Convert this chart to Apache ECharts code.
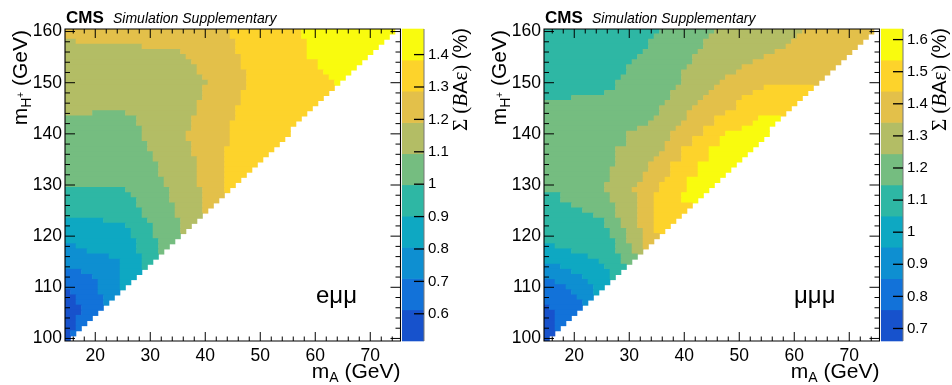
<!DOCTYPE html>
<html>
<head>
<meta charset="utf-8">
<script src="https://cdn.jsdelivr.net/npm/echarts@6/dist/echarts.min.js"></script>
<style>
  html, body { margin: 0; padding: 0; background: #fff; }
  #chart { width: 952px; height: 385px; }
</style>
</head>
<body>
<div id="chart"></div>
<script>
// axis ranges (bins centred on whole GeV) and ticks
const mARange = [14.5, 75.5];
const mHRange = [99.5, 160.5];
const mAMajor = [20, 30, 40, 50, 60, 70];
const mAMinor = [16, 18, 22, 24, 26, 28, 32, 34, 36, 38, 42, 44, 46, 48, 52, 54, 56, 58, 62, 64, 66, 68, 72, 74];
const mHMajor = [100, 110, 120, 130, 140, 150, 160];
const mHMinor = [102, 104, 106, 108, 112, 114, 116, 118, 122, 124, 126, 128, 132, 134, 136, 138, 142, 144, 146, 148, 152, 154, 156, 158];

// colour bar: contour edges (10 equal bands) and labelled values
const emmBounds = [0.516, 0.612, 0.709, 0.805, 0.901, 0.998, 1.094, 1.190, 1.287, 1.383, 1.479];
const emmTicks = [0.6, 0.7, 0.8, 0.9, 1, 1.1, 1.2, 1.3, 1.4];
const mmmBounds = [0.661, 0.758, 0.855, 0.953, 1.050, 1.147, 1.244, 1.342, 1.439, 1.536, 1.633];
const mmmTicks = [0.7, 0.8, 0.9, 1, 1.1, 1.2, 1.3, 1.4, 1.5, 1.6];
const bandColors = ['#1752cc', '#1272d9', '#0e8fd1', '#0ea8c2', '#2eb7a4',
                    '#75bd80', '#b3bd65', '#e3c04a', '#fdd32b', '#f9fb0e'];

// one row per mH: [mH, last filled mA, start mA, band, start mA, band, ...]
const emmRows = [
  [160, 74, 15, 7, 45, 8, 58, 9],
  [159, 73, 15, 7, 45, 8, 58, 9],
  [158, 72, 15, 6, 17, 7, 46, 8, 59, 9],
  [157, 71, 15, 6, 29, 7, 46, 8, 59, 9],
  [156, 70, 15, 6, 36, 7, 46, 8, 59, 9],
  [155, 69, 15, 6, 37, 7, 47, 8, 59, 9],
  [154, 68, 15, 6, 38, 7, 47, 8, 61, 9],
  [153, 67, 15, 6, 39, 7, 47, 8, 61, 9],
  [152, 66, 15, 6, 39, 7, 48, 8, 62, 9],
  [151, 65, 15, 6, 40, 7, 48, 8, 63, 9],
  [150, 64, 15, 6, 41, 7, 48, 8, 64, 9],
  [149, 63, 15, 6, 40, 7, 48, 8],
  [148, 62, 15, 6, 40, 7, 47, 8],
  [147, 61, 15, 6, 40, 7, 47, 8],
  [146, 60, 15, 6, 39, 7, 47, 8],
  [145, 59, 15, 6, 39, 7, 46, 8],
  [144, 58, 15, 6, 20, 5, 26, 6, 39, 7, 46, 8],
  [143, 57, 15, 5, 28, 6, 38, 7, 46, 8],
  [142, 56, 15, 5, 28, 6, 38, 7, 45, 8],
  [141, 55, 15, 5, 29, 6, 38, 7, 45, 8],
  [140, 55, 15, 5, 29, 6, 37, 7, 45, 8],
  [139, 54, 15, 5, 29, 6, 37, 7, 45, 8],
  [138, 53, 15, 5, 30, 6, 38, 7, 45, 8],
  [137, 52, 15, 5, 30, 6, 38, 7, 44, 8],
  [136, 51, 15, 5, 31, 6, 38, 7, 44, 8],
  [135, 50, 15, 5, 31, 6, 39, 7, 44, 8],
  [134, 49, 15, 5, 32, 6, 39, 7, 44, 8],
  [133, 48, 15, 5, 32, 6, 39, 7, 44, 8],
  [132, 47, 15, 5, 32, 6, 39, 7, 44, 8],
  [131, 46, 15, 5, 33, 6, 39, 7, 44, 8],
  [130, 45, 15, 5, 33, 6, 39, 7, 44, 8],
  [129, 44, 15, 4, 26, 5, 34, 6, 40, 7, 44, 8],
  [128, 43, 15, 4, 27, 5, 34, 6, 40, 7],
  [127, 42, 15, 4, 28, 5, 34, 6, 40, 7],
  [126, 41, 15, 4, 28, 5, 35, 6, 40, 7],
  [125, 40, 15, 4, 29, 5, 35, 6, 40, 7],
  [124, 39, 15, 4, 29, 5, 35, 6],
  [123, 38, 15, 3, 22, 4, 30, 5, 36, 6],
  [122, 37, 15, 3, 26, 4, 31, 5, 36, 6],
  [121, 36, 15, 3, 27, 4, 31, 5, 36, 6],
  [120, 35, 15, 3, 27, 4, 31, 5],
  [119, 34, 15, 3, 28, 4, 32, 5],
  [118, 33, 15, 2, 17, 3, 28, 4, 32, 5],
  [117, 32, 15, 2, 19, 3, 28, 4, 32, 5],
  [116, 31, 15, 2, 23, 3, 29, 4],
  [115, 30, 15, 2, 25, 3, 29, 4],
  [114, 29, 15, 2, 25, 3, 29, 4],
  [113, 28, 15, 1, 18, 2, 25, 3],
  [112, 27, 15, 1, 20, 2, 25, 3],
  [111, 26, 15, 1, 21, 2, 25, 3],
  [110, 25, 15, 1, 21, 2, 25, 3],
  [109, 24, 15, 0, 16, 1, 21, 2],
  [108, 23, 15, 0, 17, 1, 22, 2],
  [107, 22, 15, 0, 17, 1, 22, 2],
  [106, 21, 15, 0, 18, 1],
  [105, 20, 15, 0, 18, 1],
  [104, 19, 15, 0, 17, 1],
  [103, 18, 15, 0, 17, 1],
  [102, 17, 15, 0, 17, 1],
  [101, 16, 15, 0, 16, 1],
  [100, 15, 15, 0]
];

const mmmRows = [
  [160, 74, 15, 4, 36, 5, 46, 6, 62, 7],
  [159, 73, 15, 4, 35, 5, 45, 6, 61, 7],
  [158, 72, 15, 4, 34, 5, 44, 6, 60, 7],
  [157, 71, 15, 4, 34, 5, 44, 6, 59, 7],
  [156, 70, 15, 4, 33, 5, 43, 6, 57, 7],
  [155, 69, 15, 4, 32, 5, 42, 6, 55, 7],
  [154, 68, 15, 4, 31, 5, 42, 6, 53, 7],
  [153, 67, 15, 4, 30, 5, 41, 6, 51, 7],
  [152, 66, 15, 4, 30, 5, 40, 6, 50, 7],
  [151, 65, 15, 4, 29, 5, 40, 6, 48, 7],
  [150, 64, 15, 4, 28, 5, 40, 6, 47, 7],
  [149, 63, 15, 4, 28, 5, 39, 6, 46, 7, 55, 8],
  [148, 62, 15, 4, 26, 5, 38, 6, 45, 7, 53, 8],
  [147, 61, 15, 4, 20, 5, 38, 6, 44, 7, 51, 8],
  [146, 60, 15, 5, 37, 6, 43, 7, 50, 8],
  [145, 59, 15, 5, 36, 6, 42, 7, 50, 8],
  [144, 58, 15, 5, 36, 6, 41, 7, 48, 8],
  [143, 57, 15, 5, 35, 6, 41, 7, 46, 8, 54, 9],
  [142, 56, 15, 5, 34, 6, 40, 7, 46, 8, 53, 9],
  [141, 55, 15, 5, 32, 6, 39, 7, 44, 8, 51, 9],
  [140, 55, 15, 5, 30, 6, 38, 7, 44, 8, 48, 9],
  [139, 54, 15, 5, 30, 6, 38, 7, 42, 8, 47, 9],
  [138, 53, 15, 5, 30, 6, 37, 7, 42, 8, 47, 9],
  [137, 52, 15, 5, 28, 6, 37, 7, 40, 8, 45, 9],
  [136, 51, 15, 5, 28, 6, 36, 7, 40, 8, 45, 9],
  [135, 50, 15, 5, 28, 6, 35, 7, 40, 8, 45, 9],
  [134, 49, 15, 5, 28, 6, 34, 7, 38, 8, 43, 9],
  [133, 48, 15, 5, 27, 6, 34, 7, 38, 8, 43, 9],
  [132, 47, 15, 5, 27, 6, 33, 7, 38, 8, 43, 9],
  [131, 46, 15, 5, 27, 6, 33, 7, 37, 8, 41, 9],
  [130, 45, 15, 5, 26, 6, 32, 7, 36, 8, 41, 9],
  [129, 44, 15, 5, 26, 6, 31, 7, 36, 8, 41, 9],
  [128, 43, 15, 4, 18, 5, 27, 6, 32, 7, 35, 8, 40, 9],
  [127, 42, 15, 4, 18, 5, 27, 6, 32, 7, 35, 8, 40, 9],
  [126, 41, 15, 4, 20, 5, 28, 6, 32, 7, 35, 8],
  [125, 40, 15, 4, 22, 5, 28, 6, 32, 7, 35, 8],
  [124, 39, 15, 4, 24, 5, 28, 6, 32, 7, 35, 8],
  [123, 38, 15, 4, 26, 5, 29, 6, 32, 7, 35, 8],
  [122, 37, 15, 4, 26, 5, 29, 6, 32, 7, 35, 8],
  [121, 36, 15, 4, 27, 5, 30, 6, 33, 7, 35, 8],
  [120, 35, 15, 4, 27, 5, 30, 6, 33, 7],
  [119, 34, 15, 4, 28, 5, 30, 6, 33, 7],
  [118, 33, 15, 3, 17, 4, 28, 5, 31, 6, 33, 7],
  [117, 32, 15, 3, 20, 4, 28, 5, 31, 6],
  [116, 31, 15, 3, 23, 4, 29, 5],
  [115, 30, 15, 3, 25, 4, 29, 5],
  [114, 29, 15, 2, 18, 3, 26, 4],
  [113, 28, 15, 2, 20, 3, 27, 4],
  [112, 27, 15, 2, 22, 3, 27, 4],
  [111, 26, 15, 1, 17, 2, 23, 3],
  [110, 25, 15, 1, 19, 2, 24, 3],
  [109, 24, 15, 1, 20, 2, 24, 3],
  [108, 23, 15, 1, 21, 2],
  [107, 22, 15, 1, 22, 2],
  [106, 21, 15, 0, 16, 1],
  [105, 20, 15, 0, 17, 1],
  [104, 19, 15, 0, 17, 1],
  [103, 18, 15, 0, 17, 1],
  [102, 17, 15, 0, 17, 1],
  [101, 16, 15, 0],
  [100, 15, 15, 0]
];

const FONT = '"Liberation Sans", Arial, sans-serif';
const SERIF = '"Liberation Serif", "DejaVu Serif", serif';
const PLOT_TOP = 29, PLOT_W = 335.5, PLOT_H = 312, CB_W = 22;

const panels = [
  { rows: emmRows, bounds: emmBounds, ticks: emmTicks, left: 65, cbLeft: 402, label: 'eμμ', labelX: 316 },
  { rows: mmmRows, bounds: mmmBounds, ticks: mmmTicks, left: 544, cbLeft: 881, label: 'μμμ', labelX: 794 }
];

// turn the run-length rows into [fromMA, toMA, mH, value] cells
function buildRuns(rows, bounds) {
  const out = [];
  rows.forEach(r => {
    const mH = r[0], last = r[1];
    for (let i = 2; i < r.length; i += 2) {
      const from = r[i];
      const to = i + 2 < r.length ? r[i + 2] - 1 : last;
      const band = r[i + 1];
      if (to >= from) out.push([from, to, mH, (bounds[band] + bounds[band + 1]) / 2]);
    }
  });
  return out;
}

function renderRun(params, api) {
  const p0 = api.coord([api.value(0) - 0.5, api.value(2) + 0.5]);
  const p1 = api.coord([api.value(1) + 0.5, api.value(2) - 0.5]);
  return {
    type: 'rect',
    shape: { x: p0[0] - 0.3, y: p0[1] - 0.5, width: p1[0] - p0[0] + 0.6, height: p1[1] - p0[1] + 1 },
    style: { fill: api.visual('color') }
  };
}

const BLACK = { stroke: '#000', lineWidth: 1 };
function seg(x1, y1, x2, y2, style) {
  return { type: 'line', shape: { x1, y1, x2, y2 }, style: style || BLACK };
}

// frame plus inward ticks on all four sides: [value, 0 = mA / 1 = mH, length]
function tickData() {
  const d = [[0, 2, 0]];
  mAMajor.forEach(v => d.push([v, 0, 9]));
  mAMinor.forEach(v => d.push([v, 0, 4.5]));
  mHMajor.forEach(v => d.push([v, 1, 10]));
  mHMinor.forEach(v => d.push([v, 1, 5]));
  return d;
}
function renderTick(params, api) {
  const v = api.value(0), kind = api.value(1), len = api.value(2);
  if (kind === 2) {
    const a = api.coord([mARange[0], mHRange[1]]), b = api.coord([mARange[1], mHRange[0]]);
    return { type: 'rect', shape: { x: a[0], y: a[1], width: b[0] - a[0], height: b[1] - a[1] },
             style: { fill: null, stroke: '#000', lineWidth: 1.1 } };
  }
  if (kind === 0) {
    const b = api.coord([v, mHRange[0]]), t = api.coord([v, mHRange[1]]);
    return { type: 'group', children: [seg(b[0], b[1], b[0], b[1] - len), seg(t[0], t[1], t[0], t[1] + len)] };
  }
  const l = api.coord([mARange[0], v]), r = api.coord([mARange[1], v]);
  return { type: 'group', children: [seg(l[0], l[1], l[0] + len, l[1]), seg(r[0], r[1], r[0] - len, r[1])] };
}

function frameAxis(dim, grid, pos, labels) {
  const range = dim === 'x' ? mARange : mHRange;
  return {
    type: 'value', gridIndex: grid, position: pos,
    min: range[0], max: range[1], splitNumber: 6,
    axisLine: { show: false },
    axisTick: { show: false },
    axisLabel: {
      show: labels, showMinLabel: false, showMaxLabel: false,
      color: '#000', fontFamily: FONT, fontSize: 17.5, margin: dim === 'x' ? 6 : 3
    },
    splitLine: { show: false }
  };
}

const grid = [], xAxis = [], yAxis = [], series = [], visualMap = [], graphic = [];

panels.forEach(p => {
  const g = grid.length;
  grid.push({ left: p.left, top: PLOT_TOP, width: PLOT_W, height: PLOT_H });
  grid.push({ left: p.cbLeft, top: PLOT_TOP, width: CB_W, height: PLOT_H });

  const xi = xAxis.length, yi = yAxis.length;
  xAxis.push(frameAxis('x', g, 'bottom', true));
  yAxis.push(frameAxis('y', g, 'left', true));

  // colour bar axes
  const cxi = xAxis.length, cyi = yAxis.length;
  xAxis.push({ type: 'value', gridIndex: g + 1, min: 0, max: 1, show: false });
  yAxis.push({
    type: 'value', gridIndex: g + 1, position: 'right',
    min: p.bounds[0], max: p.bounds[p.bounds.length - 1], splitNumber: 10,
    axisLine: { show: false },
    axisTick: { show: false },
    axisLabel: {
      showMinLabel: false, showMaxLabel: false,
      color: '#000', fontFamily: FONT, fontSize: 15, margin: 4,
      formatter: v => String(Math.round(v * 10) / 10)
    },
    splitLine: { show: false }
  });

  const si = series.length;
  series.push({
    type: 'custom', xAxisIndex: xi, yAxisIndex: yi, clip: true, z: 1,
    encode: { x: [0, 1], y: 2 },
    renderItem: renderRun,
    data: buildRuns(p.rows, p.bounds)
  });
  visualMap.push({
    type: 'piecewise', show: false, seriesIndex: si, dimension: 3,
    pieces: bandColors.map((c, k) => ({ gte: p.bounds[k], lt: p.bounds[k + 1], color: c }))
  });

  series.push({
    type: 'custom', xAxisIndex: xi, yAxisIndex: yi, z: 5, silent: true,
    encode: { x: 0 },
    renderItem: renderTick,
    data: tickData()
  });

  // colour bar boxes
  series.push({
    type: 'custom', xAxisIndex: cxi, yAxisIndex: cyi, z: 1,
    encode: { y: [0, 1] },
    data: p.bounds.slice(0, -1).map((b, k) => [b, p.bounds[k + 1], k]),
    renderItem: (params, api) => {
      const p0 = api.coord([0, api.value(1)]);
      const p1 = api.coord([1, api.value(0)]);
      return {
        type: 'rect',
        shape: { x: p0[0], y: p0[1] - 0.3, width: p1[0] - p0[0], height: p1[1] - p0[1] + 0.6 },
        style: { fill: bandColors[api.value(2)] }
      };
    }
  });
  // colour bar ticks and right edge
  series.push({
    type: 'custom', xAxisIndex: cxi, yAxisIndex: cyi, z: 5, silent: true,
    encode: { y: 0 },
    data: [[-1]].concat(p.ticks.map(v => [v])),
    renderItem: (params, api) => {
      const v = api.value(0);
      if (v < 0) {
        const a = api.coord([1, p.bounds[p.bounds.length - 1]]), b = api.coord([1, p.bounds[0]]);
        return seg(a[0], a[1], b[0], b[1], { stroke: '#777', lineWidth: 1 });
      }
      const c = api.coord([1, v]);
      return seg(c[0], c[1], c[0] - 10, c[1], { stroke: '#000', lineWidth: 1.3 });
    }
  });

  const right = p.left + PLOT_W;
  const titleRich = {
    m: { fontFamily: FONT, fontSize: 21, lineHeight: 26, fill: '#000' },
    s: { fontFamily: FONT, fontSize: 14, lineHeight: 14, verticalAlign: 'bottom', fill: '#000' },
    p: { fontFamily: FONT, fontSize: 10, lineHeight: 12, verticalAlign: 'middle', fill: '#000' }
  };
  graphic.push(
    { type: 'text', x: p.left + 1, y: 18,
      style: { text: 'CMS', fontFamily: FONT, fontWeight: 'bold', fontSize: 17, fill: '#000', verticalAlign: 'middle' } },
    { type: 'text', x: p.left + 48, y: 19,
      style: { text: 'Simulation Supplementary', fontFamily: FONT, fontStyle: 'italic', fontSize: 14, fill: '#000', verticalAlign: 'middle' } },
    { type: 'text', x: right, y: 372,
      style: { text: '{m|m}{s|A}{m| (GeV)}', align: 'right', verticalAlign: 'middle', rich: titleRich } },
    { type: 'text', x: p.left - 44, y: 30, rotation: Math.PI / 2,
      style: { text: '{m|m}{s|H}{p|+}{m| (GeV)}', align: 'right', verticalAlign: 'middle', rich: titleRich } },
    { type: 'text', x: p.cbLeft + 59, y: 28, rotation: Math.PI / 2,
      style: {
        text: '{g|Σ}{g| (}{i|B}{a|A}{g|ε}{g|)}{a| (%)}', align: 'right', verticalAlign: 'middle',
        rich: {
          g: { fontFamily: SERIF, fontSize: 21, fill: '#000' },
          i: { fontFamily: SERIF, fontStyle: 'italic', fontSize: 21, fill: '#000' },
          a: { fontFamily: FONT, fontSize: 20, fill: '#000' }
        }
      } },
    { type: 'text', x: p.labelX, y: 296,
      style: { text: p.label, fontFamily: FONT, fontSize: 24, fill: '#000', verticalAlign: 'middle' } }
  );
});

const chart = echarts.init(document.getElementById('chart'), null, { renderer: 'canvas' });
chart.setOption({
  animation: false,
  backgroundColor: '#fff',
  grid, xAxis, yAxis, series, visualMap, graphic
});
</script>
</body>
</html>
